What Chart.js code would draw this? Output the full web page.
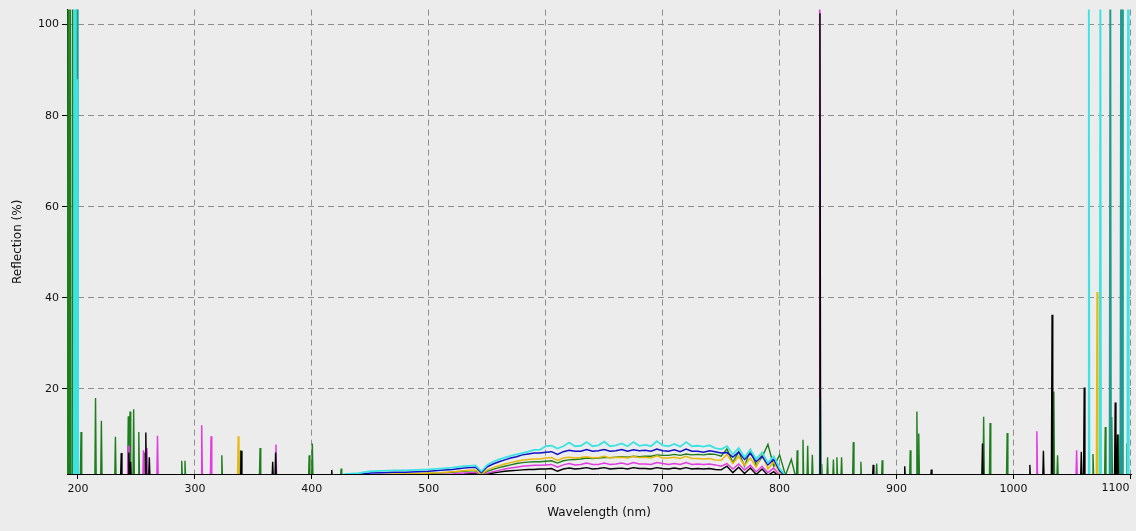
<!DOCTYPE html>
<html>
<head>
<meta charset="utf-8">
<title>Reflection spectrum</title>
<script src="https://cdn.jsdelivr.net/npm/chart.js@4.4.1/dist/chart.umd.min.js"></script>
<style>
  html, body { margin: 0; padding: 0; background: #ececec; }
  #wrap { width: 1136px; height: 531px; }
</style>
</head>
<body>
<div id="wrap"><canvas id="chart-spectrum" width="1136" height="531"></canvas></div>
<script>
// Axis ticks
const X_TICKS = [200, 300, 400, 500, 600, 700, 800, 900, 1000, 1100];
const Y_TICKS = [20, 40, 60, 80, 100];

// Smooth part of the spectra, 420–810 nm
const CURVE_WL = [420, 430, 440, 450, 460, 470, 480, 490, 500, 510, 520, 530,
  535, 540, 545, 550, 555, 560, 565, 570, 575, 580, 585, 590, 595, 600, 605, 610, 615, 620,
  625, 630, 635, 640, 645, 650, 655, 660, 665, 670, 675, 680, 685, 690, 695, 700, 705, 710,
  715, 720, 725, 730, 735, 740, 745, 750, 755, 760, 765, 770, 775, 780, 785, 790, 795, 800,
  805, 810];

const CYAN_CURVE = [0.9, 1.3, 1.5, 1.9, 2.0, 2.1, 2.1, 2.2, 2.3, 2.5, 2.7, 3.0,
  3.1, 3.2, 1.9, 3.3, 4.0, 4.5, 4.9, 5.3, 5.6, 5.9, 6.2, 6.6, 6.6, 7.4, 7.5, 6.9, 7.4, 8.2,
  7.4, 7.5, 8.3, 7.4, 7.6, 8.4, 7.4, 7.6, 8.0, 7.4, 8.3, 7.5, 7.7, 7.4, 8.5, 7.6, 7.4, 7.9,
  7.3, 8.3, 7.4, 7.5, 7.3, 7.6, 7.0, 6.7, 7.4, 5.6, 7.0, 5.0, 6.6, 4.6, 6.0, 3.8, 5.2, 2.5,
  1.0, 0.3];
const BLUE_CURVE = [0.7, 1.0, 1.2, 1.5, 1.6, 1.7, 1.7, 1.8, 1.9, 2.1, 2.3, 2.6,
  2.7, 2.8, 1.6, 2.9, 3.5, 4.0, 4.4, 4.8, 5.1, 5.5, 5.7, 5.9, 5.9, 6.1, 6.2, 5.6, 6.2, 6.5,
  6.3, 6.3, 6.7, 6.3, 6.4, 6.7, 6.3, 6.4, 6.7, 6.3, 6.6, 6.4, 6.5, 6.3, 6.8, 6.4, 6.3, 6.6,
  6.2, 6.8, 6.3, 6.3, 6.1, 6.4, 6.2, 5.9, 6.0, 5.0, 6.1, 4.5, 5.8, 4.0, 5.2, 3.3, 4.5, 2.0,
  0.8, 0.2];
const YELLOW_CURVE = [0.3, 0.6, 0.9, 1.1, 1.2, 1.3, 1.3, 1.4, 1.5, 1.6, 1.8, 2.0,
  2.1, 2.2, 1.2, 2.2, 2.7, 3.1, 3.5, 3.8, 4.1, 4.3, 4.5, 4.6, 4.6, 4.8, 4.9, 4.3, 4.8, 5.0,
  4.8, 4.9, 5.1, 4.8, 4.9, 5.2, 4.8, 4.9, 5.0, 4.8, 5.2, 4.9, 5.0, 4.8, 5.3, 4.8, 4.8, 5.0,
  4.7, 5.2, 4.7, 4.7, 4.6, 4.7, 4.4, 4.3, 5.6, 3.6, 5.2, 3.2, 4.8, 2.8, 5.8, 2.4, 4.0, 1.5,
  0.6, 0.1];
const GREEN_CURVE = [0.2, 0.5, 0.8, 1.0, 1.1, 1.2, 1.2, 1.3, 1.4, 1.5, 1.7, 1.9,
  2.0, 2.0, 1.0, 1.9, 2.3, 2.7, 3.0, 3.3, 3.6, 3.8, 3.9, 4.0, 4.0, 4.1, 4.2, 3.7, 4.2, 4.4,
  4.5, 4.6, 4.8, 4.7, 4.8, 4.9, 4.9, 5.0, 5.1, 5.0, 5.2, 5.1, 5.2, 5.2, 5.5, 5.4, 5.4, 5.6,
  5.4, 5.7, 5.5, 5.6, 5.5, 5.7, 5.6, 5.2, 6.8, 3.8, 6.2, 3.0, 6.6, 3.2, 5.0, 7.8, 3.0, 5.5,
  1.0, 4.5];
const MAGENTA_CURVE = [0.0, 0.3, 0.6, 0.8, 0.9, 1.0, 1.0, 1.1, 1.1, 1.2, 1.3, 1.5,
  1.6, 1.6, 0.8, 1.5, 1.8, 2.1, 2.4, 2.6, 2.8, 3.0, 3.1, 3.2, 3.2, 3.3, 3.4, 2.8, 3.3, 3.6,
  3.3, 3.4, 3.7, 3.4, 3.4, 3.7, 3.4, 3.5, 3.7, 3.4, 3.8, 3.5, 3.5, 3.4, 3.8, 3.6, 3.4, 3.6,
  3.4, 3.8, 3.4, 3.5, 3.4, 3.5, 3.3, 3.0, 3.6, 2.4, 3.5, 2.2, 3.2, 1.8, 3.0, 1.6, 2.6, 1.0,
  0.3, 0.0];
const BLACK_CURVE = [0.0, 0.2, 0.4, 0.6, 0.7, 0.8, 0.8, 0.9, 0.9, 1.0, 1.1, 1.2,
  1.3, 1.3, 0.7, 1.2, 1.5, 1.7, 1.9, 2.0, 2.1, 2.2, 2.3, 2.3, 2.4, 2.4, 2.5, 1.9, 2.4, 2.6,
  2.4, 2.5, 2.7, 2.4, 2.5, 2.7, 2.4, 2.5, 2.6, 2.4, 2.7, 2.5, 2.5, 2.4, 2.7, 2.5, 2.4, 2.6,
  2.4, 2.7, 2.4, 2.5, 2.4, 2.5, 2.3, 2.2, 3.0, 1.6, 2.8, 1.4, 2.6, 1.2, 2.4, 1.0, 1.8, 0.6,
  0.2, 0.0];

// Isolated spikes: wavelength (nm) and peak reflection (%)
const GREEN_SPIKE_WL = [191.5, 193.5, 195.5, 202.6, 215, 220, 232, 243, 244.5, 247.6, 252, 257,
  288.7, 291.5, 323, 339, 355.7, 397.7, 400.4, 425, 815, 820, 824, 828, 836, 841, 846, 849,
  853, 863, 869.5, 883, 887.7, 911.7, 917.4, 919, 974.5, 980, 994.6, 1034.5, 1037.7, 1068,
  1078.5, 1084, 1090, 1097];
const GREEN_SPIKE_H = [120, 120, 120, 10.5, 18, 13, 9.5, 14, 15, 15.5, 10.5, 6,
  4.2, 4.2, 5.4, 6.5, 7, 5.4, 8, 2.5, 6.5, 8.8, 7.5, 5.5, 3.5, 5, 4.5, 5,
  5, 8.3, 4, 3.6, 4.3, 6.5, 15, 10.2, 13.9, 12.5, 10.3, 19.4, 5.4, 5.7,
  11.6, 13.8, 10, 8];
const BLACK_SPIKE_WL = [237, 243.5, 245, 258, 261, 339.6, 366.5, 369, 417, 834.5, 880, 907,
  929.7, 973.5, 1014, 1025.6, 1033, 1058, 1060.5, 1087, 1089];
const BLACK_SPIKE_H = [5.9, 6, 4, 10.4, 5, 6.4, 4, 6, 2.2, 102.5, 3.3, 3,
  2.3, 8, 3.3, 6.4, 36.3, 6.2, 20.3, 17, 10];
const MAGENTA_SPIKE_WL = [243, 256, 259, 268, 305.8, 313.8, 369.3, 834.3, 1020, 1054];
const MAGENTA_SPIKE_H = [7.5, 6.5, 7, 9.7, 12, 9.6, 7.8, 120, 10.7, 6.5];
const YELLOW_SPIKE_WL = [337, 1071.5];
const YELLOW_SPIKE_H = [9.6, 41.3];
const CYAN_SPIKE_WL = [197, 198, 199.6, 834.8, 1064.4, 1074.3, 1098];
const CYAN_SPIKE_H = [120, 120, 88, 18, 120, 120, 120];
const TEAL_SPIKE_WL = [199.2, 1082.8, 1092, 1093];
const TEAL_SPIKE_H = [120, 120, 120, 120];

// merge a smooth curve and its spikes into one sorted point list
function buildSeries(curve, spikeWl, spikeH) {
  const pts = [];
  if (curve) curve.forEach((v, i) => pts.push({ x: CURVE_WL[i], y: v }));
  spikeWl.forEach((w, i) => {
    pts.push({ x: w - 0.6, y: 0 }, { x: w, y: spikeH[i] }, { x: w + 0.6, y: 0 });
  });
  return pts.sort((a, b) => a.x - b.x);
}

const FONT = { family: 'DejaVu Sans', size: 11 };
const LAST_X = X_TICKS[X_TICKS.length - 1];

const bgPlugin = {
  id: 'bg',
  beforeDraw(chart) {
    const c = chart.ctx;
    c.save();
    c.fillStyle = '#ececec';
    c.fillRect(0, 0, chart.width, chart.height);
    c.restore();
  },
  // last x label sits flush left of its tick, like the original
  afterDraw(chart) {
    const x = chart.scales.x;
    const c = chart.ctx;
    c.save();
    c.font = `${FONT.size}px ${FONT.family}`;
    c.fillStyle = '#111';
    c.textAlign = 'right';
    c.textBaseline = 'top';
    c.fillText(String(LAST_X), x.getPixelForValue(LAST_X) - 1, x.top + 9);
    c.restore();
  }
};

const line = (data, color, width) => ({
  data, borderColor: color, borderWidth: width || 1, pointRadius: 0, fill: false, tension: 0
});

new Chart(document.getElementById('chart-spectrum').getContext('2d'), {
  type: 'line',
  data: {
    datasets: [
      line(buildSeries(BLACK_CURVE, BLACK_SPIKE_WL, BLACK_SPIKE_H), '#000000', 1.4),
      line(buildSeries(CYAN_CURVE, CYAN_SPIKE_WL, CYAN_SPIKE_H), '#3de3e3', 1.8),
      line(buildSeries(null, TEAL_SPIKE_WL, TEAL_SPIKE_H), '#1f9a90', 1.8),
      line(buildSeries(MAGENTA_CURVE, MAGENTA_SPIKE_WL, MAGENTA_SPIKE_H), '#e23be2', 1.5),
      line(buildSeries(BLUE_CURVE, [], []), '#0f10c8', 1.5),
      line(buildSeries(YELLOW_CURVE, YELLOW_SPIKE_WL, YELLOW_SPIKE_H), '#e9b80c', 1.5),
      line(buildSeries(GREEN_CURVE, GREEN_SPIKE_WL, GREEN_SPIKE_H), '#1e7d1e', 1.4),
    ],
  },
  options: {
    responsive: false,
    animation: false,
    layout: { padding: { left: 0, right: 5, top: 5, bottom: 0 } },
    plugins: { legend: { display: false }, tooltip: { enabled: false } },
    scales: {
      x: {
        type: 'linear', min: 190.6, max: 1100.5,
        afterBuildTicks: axis => { axis.ticks = X_TICKS.map(v => ({ value: v })); },
        afterFit: axis => { axis.height = 57; axis.paddingRight = 0; axis.paddingLeft = 0; },
        border: { display: true, color: '#000', width: 1, dash: [6, 4] },
        grid: { color: '#8e8e8e', tickColor: '#000', tickLength: 5, tickBorderDash: [] },
        ticks: {
          color: '#111', font: FONT, padding: 4, maxRotation: 0, autoSkip: false,
          callback: v => (v === LAST_X ? '' : String(v)),
        },
        title: { display: true, text: 'Wavelength (nm)', color: '#111', font: { family: 'DejaVu Sans', size: 12 }, padding: { top: 4, bottom: 11 } },
      },
      y: {
        min: 1.3, max: 103.3,
        afterBuildTicks: axis => { axis.ticks = Y_TICKS.map(v => ({ value: v })); },
        afterFit: axis => { axis.width = 67; },
        border: { display: true, color: '#000', width: 1, dash: [6, 4] },
        grid: { color: '#8e8e8e', tickColor: '#000', tickLength: 5, tickBorderDash: [] },
        ticks: { color: '#111', font: FONT, padding: 3 },
        title: { display: true, text: 'Reflection (%)', color: '#111', font: { family: 'DejaVu Sans', size: 12 }, padding: { top: 11, bottom: 0 } },
      },
    },
  },
  plugins: [bgPlugin],
});
</script>
</body>
</html>
